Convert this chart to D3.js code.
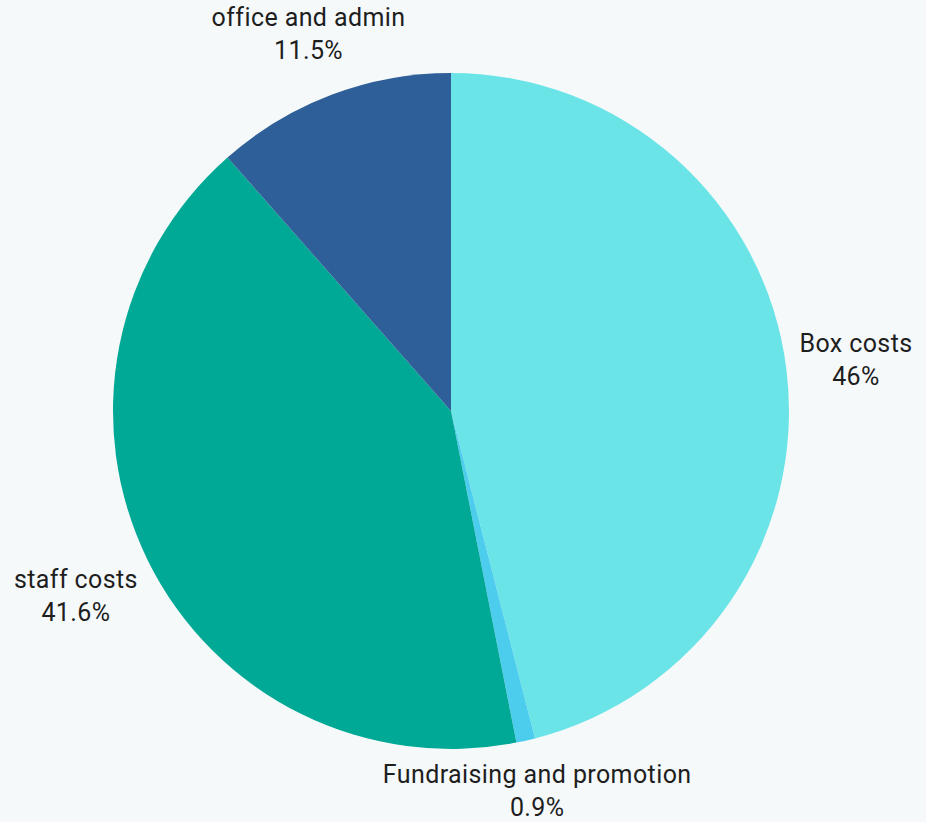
<!DOCTYPE html>
<html lang="en">
<head>
    <meta charset="UTF-8">
    <title>Costs breakdown</title>
    <script src="https://cdn.jsdelivr.net/npm/d3@7"></script>
    <style>
        html, body { margin: 0; padding: 0; background: #f5f9fa; }
        svg { display: block; }
        text { font-family: Roboto, "Noto Sans", sans-serif; fill: #1e1e1e; letter-spacing: 0.4px; }
    </style>
</head>
<body>
    <svg id="chart" width="926" height="822"></svg>
    <script>
        // data
        const categories = ["Box costs", "Fundraising and promotion", "staff costs", "office and admin"];
        const values = [46, 0.9, 41.6, 11.5];
        const colors = ["#6be4e8", "#4ccdee", "#00a896", "#2e5f98"];

        const cx = 451, cy = 411, radius = 338, labelGap = 11;

        const svg = d3.select("#chart");
        const g = svg.append("g").attr("transform", `translate(${cx},${cy})`);

        const data = categories.map((c, i) => ({ name: c, value: values[i], color: colors[i] }));

        const pie = d3.pie().value(d => d.value).sort(null);
        const arc = d3.arc().innerRadius(0).outerRadius(radius);
        const arcs = pie(data);

        g.selectAll("path")
            .data(arcs)
            .enter()
            .append("path")
            .attr("d", arc)
            .style("fill", d => d.data.color);

        const labels = g.selectAll("text.label")
            .data(arcs)
            .enter()
            .append("text")
            .attr("class", "label")
            .attr("text-anchor", "middle")
            .style("font-size", "25px");

        labels.append("tspan")
            .attr("x", 0)
            .attr("dy", 0)
            .text(d => d.data.name);

        labels.append("tspan")
            .attr("x", 0)
            .attr("dy", "1.32em")
            .text(d => d.data.value + "%");

        // push each label box out along its mid-angle until it clears the pie by labelGap
        labels.each(function(d) {
            const bb = this.getBBox();
            const a = (d.startAngle + d.endAngle) / 2;
            const ux = Math.sin(a), uy = -Math.cos(a);
            const nearest = r => {
                const x0 = r * ux - bb.width / 2, x1 = r * ux + bb.width / 2;
                const y0 = r * uy - bb.height / 2, y1 = r * uy + bb.height / 2;
                const nx = Math.max(x0, Math.min(0, x1));
                const ny = Math.max(y0, Math.min(0, y1));
                return Math.hypot(nx, ny);
            };
            let lo = 0, hi = 800;
            for (let k = 0; k < 40; k++) {
                const mid = (lo + hi) / 2;
                if (nearest(mid) < radius + labelGap) lo = mid; else hi = mid;
            }
            const tx = hi * ux - (bb.x + bb.width / 2);
            const ty = hi * uy - (bb.y + bb.height / 2);
            d3.select(this).attr("transform", `translate(${tx},${ty})`);
        });
    </script>
</body>
</html>
